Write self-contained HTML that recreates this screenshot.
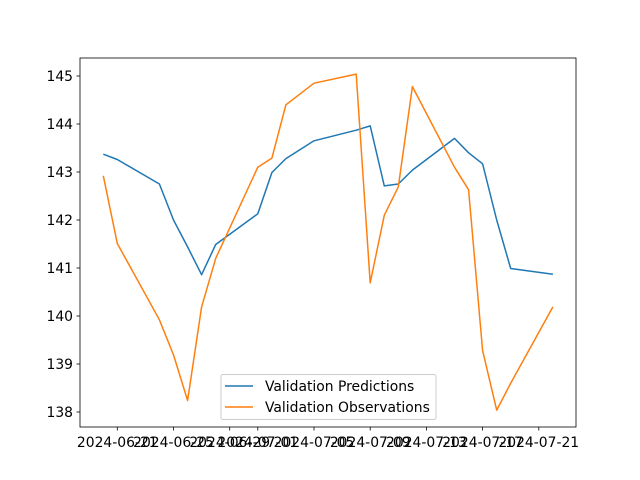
<!DOCTYPE html>
<html><head><meta charset="utf-8"><style>
body{margin:0;background:#fff;}
svg{display:block;font-family:"DejaVu Sans","Liberation Sans",sans-serif;}
</style></head><body>
<svg id="chart" width="640" height="480" viewBox="0 0 640 480" xmlns="http://www.w3.org/2000/svg">
<rect width="640" height="480" fill="#fff"/>
<g id="plot"></g>
</svg>
<script>
const dayOffsets = [-1,0,3,4,5,6,7,10,11,12,14,17,18,19,20,21,24,25,26,27,28,31];
const predictions = [143.37,143.26,142.75,142.0,141.44,140.86,141.49,142.13,142.99,143.28,143.65,143.87,143.96,142.71,142.75,143.04,143.70,143.40,143.17,142.0,140.99,140.87];
const observations = [142.92,141.51,139.92,139.19,138.24,140.19,141.20,143.10,143.29,144.40,144.85,145.04,140.69,142.10,142.69,144.78,143.10,142.63,139.28,138.04,138.6,140.19];
const xTickDays = [0,4,8,10,14,18,22,26,30];
const xTickLabels = ["2024-06-21","2024-06-25","2024-06-29","2024-07-01","2024-07-05","2024-07-09","2024-07-13","2024-07-17","2024-07-21"];
const yTicks = [138,139,140,141,142,143,144,145];

const L=80,R=576,T=58,B=427;
const x = d => 117.3 + d*14.05;
const y = v => 76 + (145 - v)*48;
const NS="http://www.w3.org/2000/svg";
const g=document.getElementById('plot');
function mk(tag,attrs){const e=document.createElementNS(NS,tag);for(const k in attrs)e.setAttribute(k,attrs[k]);g.appendChild(e);return e;}

function line(vals,color,name){
  const p=mk('polyline',{points:vals.map((v,i)=>x(dayOffsets[i]).toFixed(1)+','+y(v).toFixed(1)).join(' '),fill:'none',stroke:color,'stroke-width':1.5,'stroke-linejoin':'round'});
  
  
}
line(predictions,'#1f77b4','predictions-line');
line(observations,'#ff7f0e','observations-line');

const frame=mk('rect',{x:L,y:T,width:R-L,height:B-T,fill:'none',stroke:'#000','stroke-width':0.8});



yTicks.forEach(v=>{
  mk('line',{x1:L-3.5,x2:L,y1:y(v),y2:y(v),stroke:'#000','stroke-width':0.8});
  const t=mk('text',{x:L-7,y:y(v)+5,'text-anchor':'end','font-size':13.9,fill:'#000'});
  t.textContent=v;
  
  
});
xTickDays.forEach((d,i)=>{
  mk('line',{x1:x(d),x2:x(d),y1:B,y2:B+3.5,stroke:'#000','stroke-width':0.8});
  const t=mk('text',{x:x(d),y:B+20,'text-anchor':'middle','font-size':13.9,fill:'#000'});
  t.textContent=xTickLabels[i];
  
  
});

const lg=mk('rect',{x:221,y:374.5,width:215,height:45,rx:2,fill:'#fff','fill-opacity':0.8,stroke:'#ccc','stroke-width':1});


[['Validation Predictions','#1f77b4',386],['Validation Observations','#ff7f0e',407]].forEach(([lab,c,yy])=>{
  mk('line',{x1:225,x2:253,y1:yy,y2:yy,stroke:c,'stroke-width':1.5});
  const t=mk('text',{x:265,y:yy+5,'font-size':13.9,fill:'#000'});
  t.textContent=lab;
  
  
});
</script>
</body></html>
